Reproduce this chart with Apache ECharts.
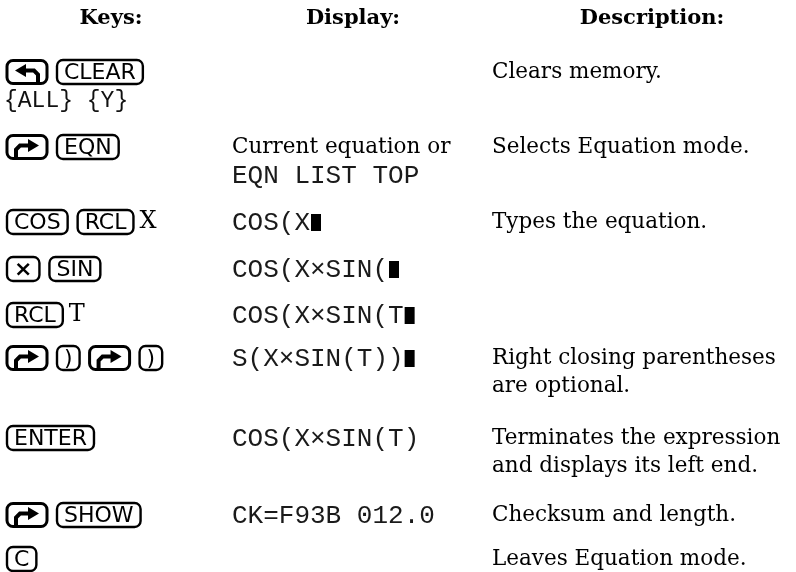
<!DOCTYPE html>
<html><head><meta charset="utf-8">
<script src="https://cdn.jsdelivr.net/npm/echarts@6/dist/echarts.min.js"></script>
<style>html,body{margin:0;background:#fff}#c{width:796px;height:572px}</style>
</head><body><div id="c"></div>
<script>
// ---- data ----
const headers = ['Keys:', 'Display:', 'Description:'];
const keyRows = [
  [{shift:'left'}, {key:'CLEAR'}],
  [{shift:'right'}, {key:'EQN'}],
  [{key:'COS'}, {key:'RCL'}, {v:'X'}],
  [{key:'×'}, {key:'SIN'}],
  [{key:'RCL'}, {v:'T'}],
  [{shift:'right'}, {key:')'}, {shift:'right'}, {key:')'}],
  [{key:'ENTER'}],
  [{shift:'right'}, {key:'SHOW'}],
  [{key:'C'}]
];
const keyMenus = ['{ALL} {Y}', '', '', '', '', '', '', '', ''];
const displayLines = [
  [],
  [{serif:'Current equation or'}, {lcd:'EQN LIST TOP'}],
  [{lcd:'COS(X', cursor:true}],
  [{lcd:'COS(X×SIN(', cursor:true}],
  [{lcd:'COS(X×SIN(T', cursor:true}],
  [{lcd:'S(X×SIN(T))', cursor:true}],
  [{lcd:'COS(X×SIN(T)'}],
  [{lcd:'CK=F93B 012.0'}],
  []
];
const descLines = [
  ['Clears memory.'],
  ['Selects Equation mode.'],
  ['Types the equation.'],
  [],
  [],
  ['Right closing parentheses', 'are optional.'],
  ['Terminates the expression', 'and displays its left end.'],
  ['Checksum and length.'],
  ['Leaves Equation mode.']
];

// ---- layout / style ----
const HEADER_Y = 19;
const headerX = [111, 353, 652];
const colX = [7, 232, 492];
const rowY = [72, 147, 222, 269, 315, 358, 438, 515, 559];
const LINE_GAP = 28;
const SERIF = '21.5px "DejaVu Serif"';
const VAR = '24px "DejaVu Serif"';
const BOLD = 'bold 21px "DejaVu Serif"';
const LCD = '26px "Liberation Mono"';
const MENU = '23px "Liberation Mono"';
const KEYFONT = '22px "DejaVu Sans"';
const KPAD = 7, KH = 24, GAP = 10;

const ctx = document.createElement('canvas').getContext('2d');
function tw(s, f) { ctx.font = f; return ctx.measureText(s).width; }

const els = [];
function text(str, x, y, font, align, fill) {
  els.push({type:'text', silent:true, style:{text:str, x:x, y:y, font:font, fill:fill || '#000', align:align || 'left', verticalAlign:'middle'}});
}
function keyBox(label, x, cy) {
  const f = label === '×' ? 'bold ' + KEYFONT : KEYFONT;
  const w = tw(label, f) + 2 * KPAD;
  els.push({type:'rect', shape:{x:x, y:cy - KH / 2, width:w, height:KH, r:6}, style:{fill:'#fff', stroke:'#000', lineWidth:2.4}});
  text(label, x + w / 2, cy + 1.5, f, 'center');
  return w;
}
function shiftKey(dir, x, cy) {
  const w = 40, h = 23, y = cy - h / 2;
  const m = p => dir === 'right' ? p : [2 * x + w - p[0], p[1]];
  els.push({type:'rect', shape:{x:x, y:y, width:w, height:h, r:6}, style:{fill:'#fff', stroke:'#000', lineWidth:3}});
  const s = x + 9;
  els.push({type:'polyline', shape:{points:[[s, y + h + 1], [s, y + 14], [s + 4, y + 10], [x + 23, y + 10]].map(m)}, style:{stroke:'#000', lineWidth:4, fill:null}});
  els.push({type:'polygon', shape:{points:[[x + 21, y + 3.5], [x + 32, y + 10], [x + 21, y + 16.5]].map(m)}, style:{fill:'#000'}});
  return w;
}

// headers
headers.forEach((h, i) => text(h, headerX[i], HEADER_Y, BOLD, 'center'));

// keys column
keyRows.forEach((row, r) => {
  let x = colX[0];
  const cy = rowY[r];
  row.forEach(tok => {
    let w;
    if (tok.shift) w = shiftKey(tok.shift, x, cy);
    else if (tok.key) w = keyBox(tok.key, x, cy);
    else { x -= 4; text(tok.v, x, cy, VAR, 'left'); w = tw(tok.v, VAR); }
    x += w + GAP;
  });
  if (keyMenus[r]) text(keyMenus[r], colX[0] - 3, cy + LINE_GAP + 1, MENU, 'left', '#111');
});

// display column
displayLines.forEach((lines, r) => {
  lines.forEach((ln, j) => {
    const y = rowY[r] + j * LINE_GAP;
    if (ln.serif) text(ln.serif, colX[1], y, SERIF, 'left');
    else {
      text(ln.lcd, colX[1], y + 1, LCD, 'left', '#1a1a1a');
      if (ln.cursor) {
        const cx = colX[1] + tw(ln.lcd, LCD) + 1;
        els.push({type:'rect', shape:{x:cx, y:y - 8, width:10, height:17}, style:{fill:'#000'}});
      }
    }
  });
});

// description column
descLines.forEach((lines, r) => {
  lines.forEach((ln, j) => text(ln, colX[2], rowY[r] + j * LINE_GAP, SERIF, 'left'));
});

const chart = echarts.init(document.getElementById('c'), null, {renderer:'canvas'});
chart.setOption({backgroundColor:'#fff', animation:false, graphic:{elements:els}});
</script></body></html>
